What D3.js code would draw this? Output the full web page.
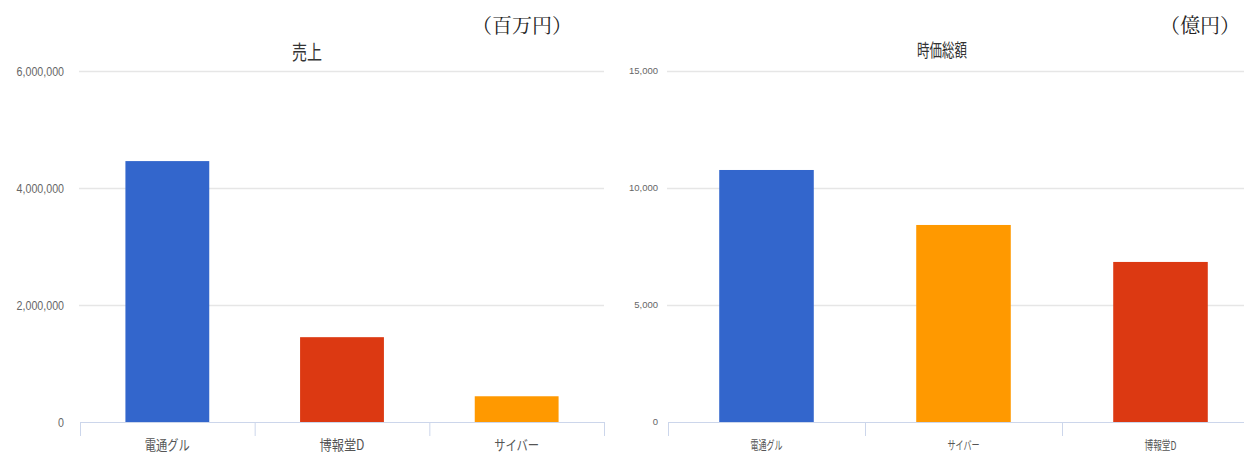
<!DOCTYPE html>
<html><head><meta charset="utf-8">
<script src="https://cdn.jsdelivr.net/npm/d3@7"></script>
<style>
html,body{margin:0;padding:0;background:#fff;}
svg{display:block;}
</style></head>
<body>
<svg id="c" width="1244" height="454"></svg>
<script>
// ---- Data ----
const salesTitle = "売上";
const salesUnit = "（百万円）";
const salesCategories = ["電通グル", "博報堂D", "サイバー"];
const salesValues = [4460000, 1450000, 440000];
const salesColors = ["#3366cc", "#dc3912", "#ff9900"];
const salesTicks = [0, 2000000, 4000000, 6000000];

const capTitle = "時価総額";
const capUnit = "（億円）";
const capCategories = ["電通グル", "サイバー", "博報堂D"];
const capValues = [10770, 8420, 6840];
const capColors = ["#3366cc", "#ff9900", "#dc3912"];
const capTicks = [0, 5000, 10000, 15000];

const svg = d3.select("#c");
const fmt = d3.format(",");

function drawChart(o) {
  const g = svg.append("g");
  const y = d3.scaleLinear().domain([0, o.ticks[o.ticks.length - 1]]).range([422, 71]);
  const x = d3.scaleBand().domain(o.categories).range([o.x0, o.x1]).paddingInner(0).paddingOuter(0);

  // gridlines
  g.selectAll("line.grid").data(o.ticks.slice(1)).join("line")
    .attr("x1", o.x0 - 1).attr("x2", o.gridEnd)
    .attr("y1", d => Math.round(y(d)) + 0.5).attr("y2", d => Math.round(y(d)) + 0.5)
    .attr("stroke", "#e6e6e6").attr("stroke-width", 1.5);

  // y tick labels
  const yl = g.selectAll("text.yl").data(o.ticks).join("text")
    .attr("x", o.labelX).attr("y", d => y(d) + o.yFont * 0.36)
    .attr("text-anchor", "end")
    .attr("font-family", "'Liberation Sans', Arial, sans-serif")
    .attr("font-size", o.yFont)
    .attr("fill", "#666")
    .text(d => fmt(d));
  if (o.yCompress !== 1) {
    yl.each(function () {
      const L = this.getComputedTextLength();
      d3.select(this).attr("textLength", L * o.yCompress).attr("lengthAdjust", "spacingAndGlyphs");
    });
  }

  // bars
  const bw = x.bandwidth() * 0.48;
  g.selectAll("rect.bar").data(o.values).join("rect")
    .attr("x", (d, i) => x(o.categories[i]) + (x.bandwidth() - bw) / 2)
    .attr("width", bw)
    .attr("y", d => y(d))
    .attr("height", d => y(0) - y(d))
    .attr("fill", (d, i) => o.colors[i]);

  // x axis
  g.append("line").attr("x1", o.x0).attr("x2", o.gridEnd)
    .attr("y1", 422.5).attr("y2", 422.5).attr("stroke", "#ccd6eb");
  const edges = o.categories.map(c => x(c)).concat([o.x1]);
  g.selectAll("line.sep").data(edges).join("line")
    .attr("x1", d => d + 0.5).attr("x2", d => d + 0.5)
    .attr("y1", 422).attr("y2", 436).attr("stroke", "#ccd6eb");

  g.selectAll("text.xl").data(o.categories).join("text")
    .attr("x", d => x(d) + x.bandwidth() / 2)
    .attr("y", 450)
    .attr("text-anchor", "middle")
    .attr("font-family", "'Noto Sans CJK JP', sans-serif")
    .attr("font-size", o.xFont)
    .attr("fill", "#555")
    .attr("textLength", d => o.xLen * d.length / 4)
    .attr("lengthAdjust", "spacingAndGlyphs")
    .text(d => d);

  // title
  g.append("text")
    .attr("x", o.titleX).attr("y", o.titleY)
    .attr("text-anchor", "middle")
    .attr("font-family", "'Noto Sans CJK JP', sans-serif")
    .attr("font-size", o.titleFont)
    .attr("fill", "#333")
    .attr("textLength", o.titleLen)
    .attr("lengthAdjust", "spacingAndGlyphs")
    .text(o.title);

  // unit
  g.append("text")
    .attr("x", o.unitX).attr("y", 33)
    .attr("text-anchor", "end")
    .attr("font-family", "'Noto Serif CJK JP', 'Liberation Serif', serif")
    .attr("font-size", 20)
    .attr("fill", "#222")
    .text(o.unit);
}

drawChart({
  title: salesTitle, unit: salesUnit, categories: salesCategories, values: salesValues,
  colors: salesColors, ticks: salesTicks,
  x0: 80, x1: 604, gridEnd: 604, labelX: 64, yFont: 13, yCompress: 0.82,
  xFont: 14, xLen: 45, titleX: 307, titleY: 60, titleFont: 20, titleLen: 30, unitX: 572
});

drawChart({
  title: capTitle, unit: capUnit, categories: capCategories, values: capValues,
  colors: capColors, ticks: capTicks,
  x0: 668, x1: 1259, gridEnd: 1244, labelX: 658, yFont: 9.5, yCompress: 1,
  xFont: 12, xLen: 32, titleX: 942, titleY: 57, titleFont: 18, titleLen: 50, unitX: 1240
});
</script>
</body></html>
